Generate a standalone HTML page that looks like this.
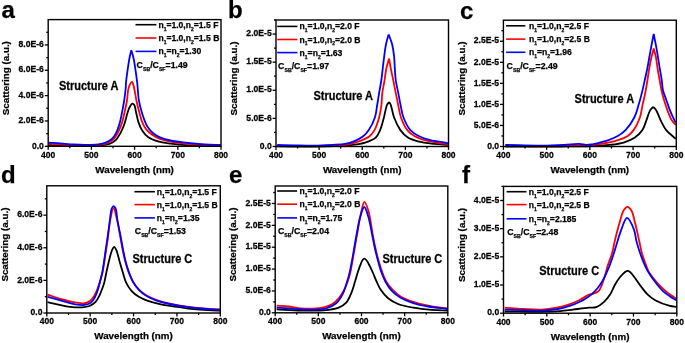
<!DOCTYPE html>
<html><head><meta charset="utf-8"><style>
html,body{margin:0;padding:0;background:#fff;width:685px;height:343px;overflow:hidden}
svg{display:block;will-change:transform}
text{font-family:"Liberation Sans", sans-serif;font-weight:bold;fill:#000;stroke:#000;stroke-width:0.25px}
</style></head><body>
<svg width="685" height="343" viewBox="0 0 685 343">
<path d="M48.60,144.90 C58.83,145.17 69.99,145.64 79.30,145.70 C87.07,145.75 95.16,145.91 100.70,145.40 C104.26,145.07 106.81,144.86 109.40,143.90 C111.76,143.02 113.88,141.84 115.70,140.10 C117.71,138.18 119.25,135.27 120.70,132.60 C122.20,129.85 123.39,126.96 124.50,123.80 C125.73,120.31 126.62,115.49 127.60,112.50 C128.26,110.48 128.68,109.00 129.50,107.50 C130.27,106.09 131.36,103.87 132.30,103.70 C132.97,103.58 133.75,104.22 134.30,105.00 C135.28,106.39 135.45,109.82 136.10,112.50 C136.86,115.62 137.49,119.47 138.60,122.60 C139.63,125.50 140.80,128.27 142.40,130.70 C143.95,133.06 145.63,135.28 148.00,137.00 C150.71,138.96 154.48,140.31 158.10,141.40 C161.98,142.57 166.00,142.98 170.60,143.60 C176.22,144.36 182.47,144.98 189.40,145.40 C197.93,145.91 213.65,146.05 218.00,146.10 C219.29,146.12 219.67,146.10 220.50,146.10" fill="none" stroke="#000000" stroke-width="1.8" stroke-linejoin="round"/>
<path d="M48.60,143.90 C52.57,144.13 56.08,144.38 60.50,144.60 C66.05,144.88 73.02,145.32 79.30,145.40 C85.59,145.48 93.13,145.69 98.20,145.10 C101.68,144.70 104.31,144.22 106.90,143.20 C109.25,142.28 111.38,141.22 113.20,139.50 C115.22,137.59 116.76,134.72 118.20,132.00 C119.72,129.11 120.95,125.83 122.00,122.60 C123.06,119.33 123.70,116.02 124.50,112.50 C125.37,108.68 126.32,104.55 127.00,100.50 C127.69,96.39 127.49,91.33 128.60,88.00 C129.42,85.54 131.07,81.92 132.00,82.00 C132.89,82.08 133.47,85.61 134.10,88.00 C135.00,91.38 135.51,96.34 136.40,100.50 C137.30,104.71 138.43,109.21 139.50,113.10 C140.44,116.50 141.19,119.76 142.40,122.60 C143.47,125.12 144.62,127.41 146.20,129.40 C147.76,131.37 149.70,133.00 151.80,134.50 C154.03,136.09 156.47,137.47 159.30,138.60 C162.61,139.92 166.53,140.79 170.60,141.60 C175.24,142.52 180.47,143.06 185.70,143.60 C191.31,144.18 197.61,144.60 203.20,144.90 C208.34,145.18 215.13,145.35 218.00,145.40 C219.18,145.42 219.67,145.40 220.50,145.40" fill="none" stroke="#ff0000" stroke-width="1.8" stroke-linejoin="round"/>
<path d="M48.60,142.60 C52.57,142.87 56.48,143.09 60.50,143.40 C64.64,143.72 68.90,144.25 73.10,144.50 C77.27,144.75 81.43,144.92 85.60,144.90 C89.79,144.88 94.56,144.90 98.20,144.40 C101.04,144.01 103.38,143.54 105.70,142.60 C107.94,141.69 110.15,140.53 111.90,138.90 C113.70,137.22 115.07,134.96 116.30,132.60 C117.66,129.99 118.59,126.91 119.50,123.80 C120.48,120.44 121.14,116.82 121.90,113.10 C122.72,109.08 123.57,104.70 124.20,100.50 C124.83,96.33 125.41,91.31 125.70,88.00 C125.89,85.83 125.80,84.77 126.00,82.60 C126.30,79.29 127.00,74.27 127.60,70.10 C128.20,65.90 128.89,61.10 129.60,57.50 C130.14,54.75 130.73,52.70 131.30,50.30 M131.30,50.30 C132.00,52.70 132.77,54.75 133.40,57.50 C134.22,61.10 134.87,65.90 135.50,70.10 C136.13,74.27 136.68,78.05 137.20,82.60 C137.83,88.03 137.98,95.09 138.90,100.50 C139.68,105.10 140.89,109.37 142.00,113.10 C142.91,116.15 143.84,118.78 144.90,121.30 C145.86,123.57 146.67,125.65 148.00,127.60 C149.38,129.63 151.09,131.57 153.10,133.20 C155.25,134.94 157.84,136.41 160.60,137.60 C163.62,138.90 167.05,139.72 170.60,140.50 C174.53,141.36 178.81,141.85 183.20,142.40 C187.98,143.00 192.85,143.50 198.20,143.90 C204.34,144.36 214.54,144.74 218.00,144.90 C219.23,144.96 219.67,144.97 220.50,145.00" fill="none" stroke="#0000ff" stroke-width="1.8" stroke-linejoin="round"/>
<rect x="48.2" y="19.6" width="172.80" height="126.70" fill="none" stroke="#000" stroke-width="1.4"/>
<line x1="48.20" y1="146.3" x2="48.20" y2="149.70" stroke="#000" stroke-width="1.3"/>
<text transform="translate(48.20,157.60) scale(0.98,1.06)" font-size="8.7" text-anchor="middle" class="tk">400</text>
<line x1="69.80" y1="146.3" x2="69.80" y2="148.30" stroke="#000" stroke-width="1.3"/>
<line x1="91.40" y1="146.3" x2="91.40" y2="149.70" stroke="#000" stroke-width="1.3"/>
<text transform="translate(91.40,157.60) scale(0.98,1.06)" font-size="8.7" text-anchor="middle" class="tk">500</text>
<line x1="113.00" y1="146.3" x2="113.00" y2="148.30" stroke="#000" stroke-width="1.3"/>
<line x1="134.60" y1="146.3" x2="134.60" y2="149.70" stroke="#000" stroke-width="1.3"/>
<text transform="translate(134.60,157.60) scale(0.98,1.06)" font-size="8.7" text-anchor="middle" class="tk">600</text>
<line x1="156.20" y1="146.3" x2="156.20" y2="148.30" stroke="#000" stroke-width="1.3"/>
<line x1="177.80" y1="146.3" x2="177.80" y2="149.70" stroke="#000" stroke-width="1.3"/>
<text transform="translate(177.80,157.60) scale(0.98,1.06)" font-size="8.7" text-anchor="middle" class="tk">700</text>
<line x1="199.40" y1="146.3" x2="199.40" y2="148.30" stroke="#000" stroke-width="1.3"/>
<line x1="221.00" y1="146.3" x2="221.00" y2="149.70" stroke="#000" stroke-width="1.3"/>
<text transform="translate(221.00,157.60) scale(0.98,1.06)" font-size="8.7" text-anchor="middle" class="tk">800</text>
<line x1="44.80" y1="146.30" x2="48.2" y2="146.30" stroke="#000" stroke-width="1.3"/>
<text transform="translate(43.90,148.50) scale(0.99,1.06)" font-size="8.7" text-anchor="end" class="tk">0.0</text>
<line x1="46.20" y1="133.63" x2="48.2" y2="133.63" stroke="#000" stroke-width="1.3"/>
<line x1="44.80" y1="120.96" x2="48.2" y2="120.96" stroke="#000" stroke-width="1.3"/>
<text transform="translate(43.90,123.16) scale(0.99,1.06)" font-size="8.7" text-anchor="end" class="tk">2.0E-6</text>
<line x1="46.20" y1="108.29" x2="48.2" y2="108.29" stroke="#000" stroke-width="1.3"/>
<line x1="44.80" y1="95.62" x2="48.2" y2="95.62" stroke="#000" stroke-width="1.3"/>
<text transform="translate(43.90,97.82) scale(0.99,1.06)" font-size="8.7" text-anchor="end" class="tk">4.0E-6</text>
<line x1="46.20" y1="82.95" x2="48.2" y2="82.95" stroke="#000" stroke-width="1.3"/>
<line x1="44.80" y1="70.28" x2="48.2" y2="70.28" stroke="#000" stroke-width="1.3"/>
<text transform="translate(43.90,72.48) scale(0.99,1.06)" font-size="8.7" text-anchor="end" class="tk">6.0E-6</text>
<line x1="46.20" y1="57.61" x2="48.2" y2="57.61" stroke="#000" stroke-width="1.3"/>
<line x1="44.80" y1="44.94" x2="48.2" y2="44.94" stroke="#000" stroke-width="1.3"/>
<text transform="translate(43.90,47.14) scale(0.99,1.06)" font-size="8.7" text-anchor="end" class="tk">8.0E-6</text>
<line x1="46.20" y1="32.27" x2="48.2" y2="32.27" stroke="#000" stroke-width="1.3"/>
<text x="134.60" y="172.70" font-size="9.8" text-anchor="middle" class="lb">Wavelength (nm)</text>
<text x="0" y="0" transform="translate(9.40,78.15) rotate(-90)" font-size="9.8" text-anchor="middle" class="lb">Scattering (a.u.)</text>
<line x1="135.5" y1="24.7" x2="156.4" y2="24.7" stroke="#000000" stroke-width="1.6"/>
<text x="158.4" y="27.7" font-size="8.6" class="lg"><tspan>n</tspan><tspan font-size="4.99" dy="2.9">1</tspan><tspan dy="-2.9">=1.0,</tspan><tspan>n</tspan><tspan font-size="4.99" dy="2.9">2</tspan><tspan dy="-2.9">=1.5 F</tspan></text>
<line x1="135.5" y1="38.0" x2="156.4" y2="38.0" stroke="#ff0000" stroke-width="1.6"/>
<text x="158.4" y="41.0" font-size="8.6" class="lg"><tspan>n</tspan><tspan font-size="4.99" dy="2.9">1</tspan><tspan dy="-2.9">=1.0,</tspan><tspan>n</tspan><tspan font-size="4.99" dy="2.9">2</tspan><tspan dy="-2.9">=1.5 B</tspan></text>
<line x1="135.5" y1="51.4" x2="156.4" y2="51.4" stroke="#0000ff" stroke-width="1.6"/>
<text x="158.4" y="54.4" font-size="8.6" class="lg"><tspan>n</tspan><tspan font-size="4.99" dy="2.9">1</tspan><tspan dy="-2.9">=</tspan><tspan>n</tspan><tspan font-size="4.99" dy="2.9">2</tspan><tspan dy="-2.9">=1.30</tspan></text>
<text x="136.6" y="68.3" font-size="8.75" class="lg">C<tspan font-size="5.2" dy="3.1">SB</tspan><tspan dy="-3.1">/C</tspan><tspan font-size="5.2" dy="3.1">SF</tspan><tspan dy="-3.1">=1.49</tspan></text>
<text transform="translate(58.9,89.8) scale(0.975,1.07)" font-size="11.3" class="st">Structure A</text>
<text x="1.5" y="18.4" font-size="24" class="le">a</text>
<path d="M277.30,146.40 C293.60,146.40 312.41,146.79 326.20,146.40 C336.32,146.11 345.35,145.75 352.50,144.90 C357.49,144.31 361.16,143.87 365.10,142.60 C368.87,141.39 373.15,139.93 375.70,137.60 C377.90,135.59 378.83,133.01 380.10,130.10 C381.66,126.52 382.74,121.71 383.90,117.50 C385.04,113.34 385.79,107.70 387.00,105.00 C387.65,103.54 388.40,102.93 389.10,101.90 M389.10,101.90 C389.67,102.93 390.23,103.57 390.80,105.00 C391.89,107.73 392.55,113.40 394.10,117.50 C395.71,121.78 397.88,126.61 400.40,130.10 C402.59,133.13 404.99,135.72 407.90,137.60 C410.82,139.49 414.10,140.40 417.90,141.40 C422.62,142.64 428.98,143.31 434.20,143.90 C438.98,144.44 443.40,144.57 448.00,144.90" fill="none" stroke="#000000" stroke-width="1.8" stroke-linejoin="round"/>
<path d="M277.30,145.70 C289.40,145.83 302.61,146.19 313.60,146.10 C322.74,146.02 332.48,145.80 338.70,145.40 C342.39,145.16 344.41,145.08 347.50,144.50 C351.06,143.83 355.14,142.76 358.80,141.40 C362.48,140.03 366.78,138.45 369.50,136.30 C371.73,134.54 373.04,132.68 374.50,130.10 C376.39,126.76 377.94,121.74 379.10,117.50 C380.22,113.37 380.87,109.13 381.40,105.00 C381.92,101.00 381.80,97.11 382.30,93.10 C382.82,88.95 383.81,84.70 384.50,80.50 C385.18,76.33 385.56,71.85 386.40,68.00 C387.14,64.62 388.20,61.73 389.10,58.60 M389.10,58.60 C389.63,61.73 390.07,64.65 390.70,68.00 C391.43,71.88 392.45,76.32 393.30,80.50 C394.15,84.69 394.97,88.91 395.80,93.10 C396.63,97.28 397.42,101.49 398.30,105.60 C399.16,109.62 399.59,113.56 401.00,117.50 C402.51,121.73 404.70,126.84 407.30,130.10 C409.46,132.81 411.85,134.60 414.80,136.30 C418.17,138.24 422.22,139.50 426.70,140.70 C432.19,142.17 442.15,143.48 445.50,143.90 C446.72,144.05 447.17,144.03 448.00,144.10" fill="none" stroke="#ff0000" stroke-width="1.8" stroke-linejoin="round"/>
<path d="M277.30,144.90 C283.13,145.07 288.86,145.27 294.80,145.40 C300.95,145.54 307.33,145.78 313.60,145.70 C319.87,145.62 326.76,145.24 332.40,144.90 C337.02,144.62 341.21,144.58 345.00,143.90 C348.23,143.32 350.88,142.59 353.80,141.40 C356.95,140.12 360.61,138.34 363.20,136.30 C365.49,134.50 367.06,132.68 368.80,130.10 C371.05,126.76 373.50,121.79 374.90,117.50 C376.24,113.41 376.49,109.12 377.20,105.00 C377.89,100.99 378.43,97.12 379.10,93.10 C379.79,88.96 380.68,84.72 381.30,80.50 C381.92,76.28 382.30,71.93 382.80,67.80 C383.27,63.87 383.67,60.21 384.20,56.30 C384.76,52.22 385.30,47.65 386.10,43.80 C386.80,40.42 387.77,37.53 388.60,34.40 M388.60,34.40 C389.73,37.53 391.11,40.40 392.00,43.80 C393.01,47.63 393.63,52.19 394.10,56.30 C394.55,60.25 394.52,64.04 394.80,68.00 C395.09,72.10 395.22,76.34 395.80,80.50 C396.38,84.71 397.49,88.93 398.30,93.10 C399.09,97.20 399.74,101.24 400.60,105.30 C401.47,109.38 401.96,113.50 403.50,117.50 C405.15,121.78 407.52,126.87 410.40,130.10 C412.90,132.89 415.96,134.65 419.20,136.30 C422.60,138.03 426.34,139.08 430.40,140.10 C435.01,141.26 442.59,142.01 445.50,142.60 C446.69,142.84 447.17,143.00 448.00,143.20" fill="none" stroke="#0000ff" stroke-width="1.8" stroke-linejoin="round"/>
<rect x="276.0" y="20.0" width="172.50" height="126.50" fill="none" stroke="#000" stroke-width="1.4"/>
<line x1="276.00" y1="146.5" x2="276.00" y2="149.90" stroke="#000" stroke-width="1.3"/>
<text transform="translate(276.00,157.80) scale(0.98,1.06)" font-size="8.7" text-anchor="middle" class="tk">400</text>
<line x1="297.56" y1="146.5" x2="297.56" y2="148.50" stroke="#000" stroke-width="1.3"/>
<line x1="319.12" y1="146.5" x2="319.12" y2="149.90" stroke="#000" stroke-width="1.3"/>
<text transform="translate(319.12,157.80) scale(0.98,1.06)" font-size="8.7" text-anchor="middle" class="tk">500</text>
<line x1="340.69" y1="146.5" x2="340.69" y2="148.50" stroke="#000" stroke-width="1.3"/>
<line x1="362.25" y1="146.5" x2="362.25" y2="149.90" stroke="#000" stroke-width="1.3"/>
<text transform="translate(362.25,157.80) scale(0.98,1.06)" font-size="8.7" text-anchor="middle" class="tk">600</text>
<line x1="383.81" y1="146.5" x2="383.81" y2="148.50" stroke="#000" stroke-width="1.3"/>
<line x1="405.38" y1="146.5" x2="405.38" y2="149.90" stroke="#000" stroke-width="1.3"/>
<text transform="translate(405.38,157.80) scale(0.98,1.06)" font-size="8.7" text-anchor="middle" class="tk">700</text>
<line x1="426.94" y1="146.5" x2="426.94" y2="148.50" stroke="#000" stroke-width="1.3"/>
<line x1="448.50" y1="146.5" x2="448.50" y2="149.90" stroke="#000" stroke-width="1.3"/>
<text transform="translate(448.50,157.80) scale(0.98,1.06)" font-size="8.7" text-anchor="middle" class="tk">800</text>
<line x1="272.60" y1="146.50" x2="276.0" y2="146.50" stroke="#000" stroke-width="1.3"/>
<text transform="translate(271.70,148.70) scale(0.99,1.06)" font-size="8.7" text-anchor="end" class="tk">0.0</text>
<line x1="274.00" y1="132.44" x2="276.0" y2="132.44" stroke="#000" stroke-width="1.3"/>
<line x1="272.60" y1="118.39" x2="276.0" y2="118.39" stroke="#000" stroke-width="1.3"/>
<text transform="translate(271.70,120.59) scale(0.99,1.06)" font-size="8.7" text-anchor="end" class="tk">5.0E-6</text>
<line x1="274.00" y1="104.33" x2="276.0" y2="104.33" stroke="#000" stroke-width="1.3"/>
<line x1="272.60" y1="90.28" x2="276.0" y2="90.28" stroke="#000" stroke-width="1.3"/>
<text transform="translate(271.70,92.48) scale(0.99,1.06)" font-size="8.7" text-anchor="end" class="tk">1.0E-5</text>
<line x1="274.00" y1="76.22" x2="276.0" y2="76.22" stroke="#000" stroke-width="1.3"/>
<line x1="272.60" y1="62.17" x2="276.0" y2="62.17" stroke="#000" stroke-width="1.3"/>
<text transform="translate(271.70,64.37) scale(0.99,1.06)" font-size="8.7" text-anchor="end" class="tk">1.5E-5</text>
<line x1="274.00" y1="48.11" x2="276.0" y2="48.11" stroke="#000" stroke-width="1.3"/>
<line x1="272.60" y1="34.06" x2="276.0" y2="34.06" stroke="#000" stroke-width="1.3"/>
<text transform="translate(271.70,36.26) scale(0.99,1.06)" font-size="8.7" text-anchor="end" class="tk">2.0E-5</text>
<line x1="274.00" y1="20.00" x2="276.0" y2="20.00" stroke="#000" stroke-width="1.3"/>
<text x="362.25" y="172.90" font-size="9.8" text-anchor="middle" class="lb">Wavelength (nm)</text>
<text x="0" y="0" transform="translate(237.20,78.45) rotate(-90)" font-size="9.8" text-anchor="middle" class="lb">Scattering (a.u.)</text>
<line x1="277.2" y1="26.4" x2="297.4" y2="26.4" stroke="#000000" stroke-width="1.6"/>
<text x="299.6" y="29.4" font-size="8.6" class="lg"><tspan>n</tspan><tspan font-size="4.99" dy="2.9">1</tspan><tspan dy="-2.9">=1.0,</tspan><tspan>n</tspan><tspan font-size="4.99" dy="2.9">2</tspan><tspan dy="-2.9">=2.0 F</tspan></text>
<line x1="277.2" y1="39.5" x2="297.4" y2="39.5" stroke="#ff0000" stroke-width="1.6"/>
<text x="299.6" y="42.5" font-size="8.6" class="lg"><tspan>n</tspan><tspan font-size="4.99" dy="2.9">1</tspan><tspan dy="-2.9">=1.0,</tspan><tspan>n</tspan><tspan font-size="4.99" dy="2.9">2</tspan><tspan dy="-2.9">=2.0 B</tspan></text>
<line x1="277.2" y1="52.6" x2="297.4" y2="52.6" stroke="#0000ff" stroke-width="1.6"/>
<text x="299.6" y="55.6" font-size="8.6" class="lg"><tspan>n</tspan><tspan font-size="4.99" dy="2.9">1</tspan><tspan dy="-2.9">=</tspan><tspan>n</tspan><tspan font-size="4.99" dy="2.9">2</tspan><tspan dy="-2.9">=1.63</tspan></text>
<text x="278.1" y="69.2" font-size="8.75" class="lg">C<tspan font-size="5.2" dy="3.1">SB</tspan><tspan dy="-3.1">/C</tspan><tspan font-size="5.2" dy="3.1">SF</tspan><tspan dy="-3.1">=1.97</tspan></text>
<text transform="translate(313.5,99.7) scale(0.975,1.07)" font-size="11.3" class="st">Structure A</text>
<text x="228.0" y="18.4" font-size="24" class="le">b</text>
<path d="M505.30,146.50 C523.53,146.50 544.34,146.60 560.00,146.50 C571.79,146.42 581.96,146.45 591.00,146.10 C598.05,145.83 604.03,145.56 609.80,144.90 C614.77,144.33 619.31,143.89 623.60,142.60 C627.64,141.39 631.69,139.80 634.90,137.60 C637.88,135.56 640.49,132.96 642.40,130.10 C644.28,127.28 645.03,123.83 646.30,120.60 C647.60,117.27 648.65,112.85 650.10,110.40 C651.06,108.78 652.17,108.00 653.20,106.80 M653.20,106.80 C654.23,108.00 655.29,108.80 656.30,110.40 C657.85,112.86 659.14,117.30 660.80,120.60 C662.44,123.87 663.85,127.17 666.20,130.10 C668.75,133.29 672.60,135.90 675.80,138.80" fill="none" stroke="#000000" stroke-width="1.8" stroke-linejoin="round"/>
<path d="M505.30,146.10 C517.40,146.17 530.04,146.36 541.60,146.30 C552.18,146.24 565.37,146.08 572.00,145.80 C575.23,145.66 576.83,145.30 579.20,145.30 C581.50,145.30 583.91,145.81 586.00,145.80 C587.79,145.79 589.05,145.62 591.00,145.40 C593.77,145.08 597.48,144.51 601.00,143.90 C604.97,143.21 609.35,142.60 613.60,141.40 C618.15,140.12 623.89,138.55 627.40,136.30 C630.11,134.56 631.71,132.72 633.60,130.10 C635.99,126.78 638.42,121.74 639.90,117.50 C641.27,113.56 641.53,109.61 642.40,105.60 C643.29,101.48 644.37,97.28 645.20,93.10 C646.03,88.92 646.71,84.70 647.40,80.50 C648.08,76.33 648.59,72.03 649.30,68.00 C649.97,64.21 650.71,60.41 651.50,57.00 C652.19,54.00 652.97,51.40 653.70,48.60 M653.70,48.60 C654.43,51.40 655.29,53.99 655.90,57.00 C656.59,60.40 656.89,64.22 657.50,68.00 C658.15,72.04 659.01,76.62 659.70,80.50 C660.30,83.88 660.69,86.79 661.40,90.00 C662.14,93.35 663.09,96.82 664.10,100.20 C665.12,103.62 666.20,107.03 667.50,110.40 C668.83,113.83 670.35,117.99 672.00,120.60 C673.19,122.48 674.53,123.53 675.80,125.00" fill="none" stroke="#ff0000" stroke-width="1.8" stroke-linejoin="round"/>
<path d="M505.30,144.90 C517.40,145.13 530.93,145.66 541.60,145.60 C550.02,145.55 557.44,145.23 564.20,144.90 C569.71,144.63 575.18,143.77 579.20,143.90 C581.91,143.99 583.90,144.72 586.00,144.80 C587.79,144.86 589.11,144.76 591.00,144.50 C593.53,144.15 596.88,143.33 599.80,142.60 C602.75,141.86 605.71,141.14 608.60,140.10 C611.54,139.04 614.53,137.92 617.30,136.30 C620.18,134.62 622.92,132.78 625.50,130.10 C628.66,126.82 632.11,121.80 634.30,117.50 C636.28,113.61 637.16,109.64 638.40,105.60 C639.66,101.51 640.75,97.29 641.80,93.10 C642.85,88.92 643.76,84.69 644.70,80.50 C645.63,76.33 646.50,72.55 647.40,68.00 C648.47,62.58 649.53,55.92 650.60,50.10 C651.63,44.54 652.67,39.23 653.70,33.80 M653.70,33.80 C654.73,39.23 655.82,44.53 656.80,50.10 C657.82,55.92 658.80,62.57 659.70,68.00 C660.45,72.54 661.25,76.61 661.80,80.50 C662.28,83.88 662.18,86.82 662.90,90.00 C663.67,93.38 665.22,96.80 666.40,100.20 C667.58,103.60 668.65,107.03 670.00,110.40 C671.38,113.83 673.52,118.53 674.60,120.60 C675.09,121.54 675.40,121.93 675.80,122.60" fill="none" stroke="#0000ff" stroke-width="1.8" stroke-linejoin="round"/>
<rect x="503.4" y="20.2" width="172.90" height="126.30" fill="none" stroke="#000" stroke-width="1.4"/>
<line x1="503.40" y1="146.5" x2="503.40" y2="149.90" stroke="#000" stroke-width="1.3"/>
<text transform="translate(503.40,157.80) scale(0.98,1.06)" font-size="8.7" text-anchor="middle" class="tk">400</text>
<line x1="525.01" y1="146.5" x2="525.01" y2="148.50" stroke="#000" stroke-width="1.3"/>
<line x1="546.62" y1="146.5" x2="546.62" y2="149.90" stroke="#000" stroke-width="1.3"/>
<text transform="translate(546.62,157.80) scale(0.98,1.06)" font-size="8.7" text-anchor="middle" class="tk">500</text>
<line x1="568.24" y1="146.5" x2="568.24" y2="148.50" stroke="#000" stroke-width="1.3"/>
<line x1="589.85" y1="146.5" x2="589.85" y2="149.90" stroke="#000" stroke-width="1.3"/>
<text transform="translate(589.85,157.80) scale(0.98,1.06)" font-size="8.7" text-anchor="middle" class="tk">600</text>
<line x1="611.46" y1="146.5" x2="611.46" y2="148.50" stroke="#000" stroke-width="1.3"/>
<line x1="633.07" y1="146.5" x2="633.07" y2="149.90" stroke="#000" stroke-width="1.3"/>
<text transform="translate(633.07,157.80) scale(0.98,1.06)" font-size="8.7" text-anchor="middle" class="tk">700</text>
<line x1="654.69" y1="146.5" x2="654.69" y2="148.50" stroke="#000" stroke-width="1.3"/>
<line x1="676.30" y1="146.5" x2="676.30" y2="149.90" stroke="#000" stroke-width="1.3"/>
<text transform="translate(676.30,157.80) scale(0.98,1.06)" font-size="8.7" text-anchor="middle" class="tk">800</text>
<line x1="500.00" y1="146.50" x2="503.4" y2="146.50" stroke="#000" stroke-width="1.3"/>
<text transform="translate(499.10,148.70) scale(0.99,1.06)" font-size="8.7" text-anchor="end" class="tk">0.0</text>
<line x1="501.40" y1="135.97" x2="503.4" y2="135.97" stroke="#000" stroke-width="1.3"/>
<line x1="500.00" y1="125.45" x2="503.4" y2="125.45" stroke="#000" stroke-width="1.3"/>
<text transform="translate(499.10,127.65) scale(0.99,1.06)" font-size="8.7" text-anchor="end" class="tk">5.0E-6</text>
<line x1="501.40" y1="114.92" x2="503.4" y2="114.92" stroke="#000" stroke-width="1.3"/>
<line x1="500.00" y1="104.40" x2="503.4" y2="104.40" stroke="#000" stroke-width="1.3"/>
<text transform="translate(499.10,106.60) scale(0.99,1.06)" font-size="8.7" text-anchor="end" class="tk">1.0E-5</text>
<line x1="501.40" y1="93.88" x2="503.4" y2="93.88" stroke="#000" stroke-width="1.3"/>
<line x1="500.00" y1="83.35" x2="503.4" y2="83.35" stroke="#000" stroke-width="1.3"/>
<text transform="translate(499.10,85.55) scale(0.99,1.06)" font-size="8.7" text-anchor="end" class="tk">1.5E-5</text>
<line x1="501.40" y1="72.82" x2="503.4" y2="72.82" stroke="#000" stroke-width="1.3"/>
<line x1="500.00" y1="62.30" x2="503.4" y2="62.30" stroke="#000" stroke-width="1.3"/>
<text transform="translate(499.10,64.50) scale(0.99,1.06)" font-size="8.7" text-anchor="end" class="tk">2.0E-5</text>
<line x1="501.40" y1="51.77" x2="503.4" y2="51.77" stroke="#000" stroke-width="1.3"/>
<line x1="500.00" y1="41.25" x2="503.4" y2="41.25" stroke="#000" stroke-width="1.3"/>
<text transform="translate(499.10,43.45) scale(0.99,1.06)" font-size="8.7" text-anchor="end" class="tk">2.5E-5</text>
<line x1="501.40" y1="30.72" x2="503.4" y2="30.72" stroke="#000" stroke-width="1.3"/>
<text x="589.85" y="172.90" font-size="9.8" text-anchor="middle" class="lb">Wavelength (nm)</text>
<text x="0" y="0" transform="translate(464.60,78.55) rotate(-90)" font-size="9.8" text-anchor="middle" class="lb">Scattering (a.u.)</text>
<line x1="506.1" y1="25.8" x2="525.4" y2="25.8" stroke="#000000" stroke-width="1.6"/>
<text x="528.9" y="28.8" font-size="8.6" class="lg"><tspan>n</tspan><tspan font-size="4.99" dy="2.9">1</tspan><tspan dy="-2.9">=1.0,</tspan><tspan>n</tspan><tspan font-size="4.99" dy="2.9">2</tspan><tspan dy="-2.9">=2.5 F</tspan></text>
<line x1="506.1" y1="39.1" x2="525.4" y2="39.1" stroke="#ff0000" stroke-width="1.6"/>
<text x="528.9" y="42.1" font-size="8.6" class="lg"><tspan>n</tspan><tspan font-size="4.99" dy="2.9">1</tspan><tspan dy="-2.9">=1.0,</tspan><tspan>n</tspan><tspan font-size="4.99" dy="2.9">2</tspan><tspan dy="-2.9">=2.5 B</tspan></text>
<line x1="506.1" y1="52.3" x2="525.4" y2="52.3" stroke="#0000ff" stroke-width="1.6"/>
<text x="528.9" y="55.3" font-size="8.6" class="lg"><tspan>n</tspan><tspan font-size="4.99" dy="2.9">1</tspan><tspan dy="-2.9">=</tspan><tspan>n</tspan><tspan font-size="4.99" dy="2.9">2</tspan><tspan dy="-2.9">=1.96</tspan></text>
<text x="506.6" y="68.9" font-size="8.75" class="lg">C<tspan font-size="5.2" dy="3.1">SB</tspan><tspan dy="-3.1">/C</tspan><tspan font-size="5.2" dy="3.1">SF</tspan><tspan dy="-3.1">=2.49</tspan></text>
<text transform="translate(574.6,102.5) scale(0.975,1.07)" font-size="11.3" class="st">Structure A</text>
<text x="460.0" y="18.5" font-size="24" class="le">c</text>
<path d="M47.60,302.10 C51.57,303.00 55.47,303.97 59.50,304.80 C63.63,305.65 68.11,306.70 72.10,307.10 C75.66,307.46 79.21,307.55 82.30,307.30 C84.92,307.09 87.29,306.90 89.50,306.00 C91.72,305.10 93.94,303.66 95.60,301.90 C97.29,300.11 98.37,297.58 99.50,295.30 C100.63,293.02 101.57,290.46 102.40,288.20 C103.14,286.18 103.71,284.62 104.30,282.40 C105.07,279.50 105.67,275.55 106.40,272.20 C107.11,268.92 107.75,265.90 108.60,262.50 C109.55,258.70 110.70,253.27 111.90,250.50 C112.60,248.88 113.34,246.92 114.10,246.90 C114.87,246.88 115.75,248.88 116.50,250.50 C117.75,253.23 118.72,258.55 119.80,262.30 C120.78,265.72 121.68,268.81 122.70,272.10 C123.74,275.47 124.50,279.15 126.00,282.30 C127.46,285.37 129.35,288.39 131.50,290.80 C133.52,293.07 135.75,294.85 138.40,296.50 C141.36,298.35 144.98,299.82 148.60,301.10 C152.45,302.46 156.64,303.42 160.90,304.30 C165.42,305.24 170.36,305.77 175.00,306.50 C179.52,307.21 183.08,308.00 188.40,308.60 C196.13,309.47 212.33,310.36 217.00,310.60 C218.51,310.68 219.00,310.67 220.00,310.70" fill="none" stroke="#000000" stroke-width="1.8" stroke-linejoin="round"/>
<path d="M47.60,294.60 C51.57,295.93 55.45,297.41 59.50,298.60 C63.62,299.81 69.31,301.18 72.10,301.80 C73.48,302.11 73.92,302.19 75.20,302.40 C77.28,302.74 81.01,303.70 83.40,303.50 C85.32,303.34 86.97,302.75 88.50,301.90 C90.04,301.05 91.43,299.79 92.60,298.40 C93.82,296.94 94.67,295.18 95.60,293.30 C96.66,291.14 97.70,288.38 98.50,286.10 C99.20,284.11 99.59,282.47 100.20,280.40 C100.93,277.92 101.95,275.07 102.60,272.20 C103.30,269.12 103.66,265.91 104.20,262.50 C104.80,258.71 105.39,254.54 106.00,250.50 C106.62,246.38 107.26,242.54 107.90,238.00 C108.66,232.57 109.10,225.42 110.20,220.10 C111.11,215.69 112.45,208.20 113.60,208.20 C114.75,208.20 116.04,215.70 117.10,220.10 C118.39,225.43 119.48,232.57 120.50,238.00 C121.35,242.54 121.95,246.40 122.80,250.50 C123.63,254.50 124.48,258.57 125.50,262.30 C126.44,265.74 127.36,268.85 128.60,272.10 C129.88,275.45 131.25,279.05 133.10,282.10 C134.88,285.03 137.07,287.81 139.40,290.10 C141.60,292.26 143.88,293.99 146.60,295.60 C149.61,297.38 153.16,298.81 156.80,300.10 C160.78,301.51 164.90,302.56 169.60,303.60 C175.24,304.85 181.46,305.90 188.40,306.80 C196.92,307.91 212.33,309.11 217.00,309.40 C218.51,309.49 219.00,309.47 220.00,309.50" fill="none" stroke="#ff0000" stroke-width="1.8" stroke-linejoin="round"/>
<path d="M47.60,296.80 C51.57,297.93 55.47,299.08 59.50,300.20 C63.64,301.35 69.31,302.91 72.10,303.60 C73.48,303.94 73.91,304.10 75.20,304.30 C77.27,304.62 80.88,305.20 83.40,305.00 C85.60,304.83 87.78,304.47 89.50,303.50 C91.15,302.57 92.45,301.01 93.60,299.40 C94.85,297.65 95.71,295.52 96.60,293.30 C97.60,290.80 98.52,287.46 99.20,285.10 C99.71,283.32 99.97,282.19 100.40,280.40 C100.97,278.05 101.73,275.06 102.30,272.20 C102.91,269.11 103.38,265.91 103.90,262.50 C104.48,258.72 105.01,254.56 105.60,250.50 C106.21,246.33 106.85,242.39 107.50,237.80 C108.27,232.39 109.13,225.38 109.90,220.10 C110.52,215.82 110.66,210.81 111.70,208.50 C112.22,207.34 112.95,206.21 113.60,206.20 C114.25,206.19 115.06,207.33 115.60,208.50 C116.67,210.80 116.65,215.83 117.40,220.10 C118.33,225.39 119.87,232.38 120.90,237.80 C121.77,242.38 122.37,246.35 123.20,250.50 C124.01,254.51 124.80,258.57 125.80,262.30 C126.72,265.74 127.68,268.84 128.90,272.10 C130.16,275.47 131.51,279.10 133.30,282.20 C135.03,285.18 137.11,288.06 139.40,290.40 C141.57,292.61 143.88,294.36 146.60,296.00 C149.61,297.81 153.15,299.30 156.80,300.60 C160.77,302.01 164.90,302.99 169.60,304.00 C175.24,305.21 181.46,306.23 188.40,307.10 C196.92,308.17 212.33,309.32 217.00,309.60 C218.51,309.69 219.00,309.67 220.00,309.70" fill="none" stroke="#0000ff" stroke-width="1.8" stroke-linejoin="round"/>
<rect x="46.8" y="185.8" width="173.50" height="127.20" fill="none" stroke="#000" stroke-width="1.4"/>
<line x1="46.80" y1="313.0" x2="46.80" y2="316.40" stroke="#000" stroke-width="1.3"/>
<text transform="translate(46.80,324.30) scale(0.98,1.06)" font-size="8.7" text-anchor="middle" class="tk">400</text>
<line x1="68.49" y1="313.0" x2="68.49" y2="315.00" stroke="#000" stroke-width="1.3"/>
<line x1="90.17" y1="313.0" x2="90.17" y2="316.40" stroke="#000" stroke-width="1.3"/>
<text transform="translate(90.17,324.30) scale(0.98,1.06)" font-size="8.7" text-anchor="middle" class="tk">500</text>
<line x1="111.86" y1="313.0" x2="111.86" y2="315.00" stroke="#000" stroke-width="1.3"/>
<line x1="133.55" y1="313.0" x2="133.55" y2="316.40" stroke="#000" stroke-width="1.3"/>
<text transform="translate(133.55,324.30) scale(0.98,1.06)" font-size="8.7" text-anchor="middle" class="tk">600</text>
<line x1="155.24" y1="313.0" x2="155.24" y2="315.00" stroke="#000" stroke-width="1.3"/>
<line x1="176.93" y1="313.0" x2="176.93" y2="316.40" stroke="#000" stroke-width="1.3"/>
<text transform="translate(176.93,324.30) scale(0.98,1.06)" font-size="8.7" text-anchor="middle" class="tk">700</text>
<line x1="198.61" y1="313.0" x2="198.61" y2="315.00" stroke="#000" stroke-width="1.3"/>
<line x1="220.30" y1="313.0" x2="220.30" y2="316.40" stroke="#000" stroke-width="1.3"/>
<text transform="translate(220.30,324.30) scale(0.98,1.06)" font-size="8.7" text-anchor="middle" class="tk">800</text>
<line x1="43.40" y1="313.00" x2="46.8" y2="313.00" stroke="#000" stroke-width="1.3"/>
<text transform="translate(42.50,315.20) scale(0.99,1.06)" font-size="8.7" text-anchor="end" class="tk">0.0</text>
<line x1="44.80" y1="296.69" x2="46.8" y2="296.69" stroke="#000" stroke-width="1.3"/>
<line x1="43.40" y1="280.38" x2="46.8" y2="280.38" stroke="#000" stroke-width="1.3"/>
<text transform="translate(42.50,282.58) scale(0.99,1.06)" font-size="8.7" text-anchor="end" class="tk">2.0E-6</text>
<line x1="44.80" y1="264.08" x2="46.8" y2="264.08" stroke="#000" stroke-width="1.3"/>
<line x1="43.40" y1="247.77" x2="46.8" y2="247.77" stroke="#000" stroke-width="1.3"/>
<text transform="translate(42.50,249.97) scale(0.99,1.06)" font-size="8.7" text-anchor="end" class="tk">4.0E-6</text>
<line x1="44.80" y1="231.46" x2="46.8" y2="231.46" stroke="#000" stroke-width="1.3"/>
<line x1="43.40" y1="215.15" x2="46.8" y2="215.15" stroke="#000" stroke-width="1.3"/>
<text transform="translate(42.50,217.35) scale(0.99,1.06)" font-size="8.7" text-anchor="end" class="tk">6.0E-6</text>
<line x1="44.80" y1="198.85" x2="46.8" y2="198.85" stroke="#000" stroke-width="1.3"/>
<text x="133.55" y="339.40" font-size="9.8" text-anchor="middle" class="lb">Wavelength (nm)</text>
<text x="0" y="0" transform="translate(8.00,244.60) rotate(-90)" font-size="9.8" text-anchor="middle" class="lb">Scattering (a.u.)</text>
<line x1="134.5" y1="191.7" x2="154.9" y2="191.7" stroke="#000000" stroke-width="1.6"/>
<text x="156.8" y="194.7" font-size="8.6" class="lg"><tspan>n</tspan><tspan font-size="4.99" dy="2.9">1</tspan><tspan dy="-2.9">=1.0,</tspan><tspan>n</tspan><tspan font-size="4.99" dy="2.9">2</tspan><tspan dy="-2.9">=1.5 F</tspan></text>
<line x1="134.5" y1="204.6" x2="154.9" y2="204.6" stroke="#ff0000" stroke-width="1.6"/>
<text x="156.8" y="207.6" font-size="8.6" class="lg"><tspan>n</tspan><tspan font-size="4.99" dy="2.9">1</tspan><tspan dy="-2.9">=1.0,</tspan><tspan>n</tspan><tspan font-size="4.99" dy="2.9">2</tspan><tspan dy="-2.9">=1.5 B</tspan></text>
<line x1="134.5" y1="217.9" x2="154.9" y2="217.9" stroke="#0000ff" stroke-width="1.6"/>
<text x="156.8" y="220.9" font-size="8.6" class="lg"><tspan>n</tspan><tspan font-size="4.99" dy="2.9">1</tspan><tspan dy="-2.9">=</tspan><tspan>n</tspan><tspan font-size="4.99" dy="2.9">2</tspan><tspan dy="-2.9">=1.35</tspan></text>
<text x="134.8" y="234.0" font-size="8.75" class="lg">C<tspan font-size="5.2" dy="3.1">SB</tspan><tspan dy="-3.1">/C</tspan><tspan font-size="5.2" dy="3.1">SF</tspan><tspan dy="-3.1">=1.53</tspan></text>
<text transform="translate(132.4,262.6) scale(0.975,1.07)" font-size="11.3" class="st">Structure C</text>
<text x="1.0" y="182.8" font-size="24" class="le">d</text>
<path d="M276.60,309.40 C284.77,309.80 292.88,310.46 301.10,310.60 C309.41,310.74 319.30,310.94 326.20,310.20 C331.11,309.67 335.18,309.16 338.70,307.70 C341.66,306.47 344.16,304.95 346.20,302.70 C348.41,300.26 349.76,296.69 351.20,293.30 C352.77,289.61 353.95,285.00 355.10,281.30 C356.08,278.15 356.75,275.41 357.70,272.50 C358.65,269.58 359.85,266.09 360.80,263.80 C361.44,262.26 361.87,260.88 362.60,260.00 C363.13,259.36 363.79,258.71 364.40,258.70 C365.02,258.69 365.70,259.37 366.30,260.00 C367.13,260.88 367.76,262.25 368.60,263.80 C369.84,266.09 371.48,269.57 372.80,272.50 C374.11,275.41 375.19,278.43 376.50,281.30 C377.79,284.13 378.82,286.91 380.60,289.60 C382.58,292.60 385.19,295.90 388.10,298.30 C391.02,300.70 394.31,302.49 398.10,304.00 C402.51,305.76 407.86,306.74 413.20,307.70 C419.09,308.76 426.03,309.42 432.00,309.90 C437.41,310.34 442.33,310.37 447.50,310.60" fill="none" stroke="#000000" stroke-width="1.8" stroke-linejoin="round"/>
<path d="M276.60,305.60 C280.57,305.90 284.49,306.05 288.50,306.50 C292.65,306.97 296.90,308.05 301.10,308.40 C305.26,308.75 309.67,308.80 313.60,308.60 C317.13,308.42 320.42,308.19 323.60,307.40 C326.68,306.63 329.84,305.58 332.40,304.00 C334.83,302.50 336.84,300.46 338.70,298.30 C340.62,296.08 342.25,293.47 343.70,290.80 C345.20,288.05 346.40,285.01 347.50,282.00 C348.61,278.95 349.49,275.98 350.30,272.60 C351.22,268.75 351.85,264.28 352.60,260.10 C353.35,255.91 354.07,251.69 354.80,247.50 C355.53,243.32 356.12,239.85 357.00,235.00 C358.22,228.25 359.96,216.87 361.50,210.80 C362.45,207.03 363.27,201.86 364.40,201.80 C365.56,201.74 367.22,206.98 368.40,210.80 C370.26,216.83 371.51,228.26 372.80,235.00 C373.73,239.85 374.37,243.34 375.30,247.50 C376.24,251.70 377.22,255.93 378.40,260.10 C379.59,264.30 380.99,268.83 382.40,272.60 C383.61,275.82 384.56,278.61 386.20,281.40 C387.90,284.29 390.12,287.11 392.50,289.60 C394.91,292.12 397.44,294.45 400.60,296.40 C404.20,298.62 408.75,300.29 413.20,301.80 C417.92,303.40 422.86,304.54 428.20,305.60 C434.20,306.79 441.07,307.47 447.50,308.40" fill="none" stroke="#ff0000" stroke-width="1.8" stroke-linejoin="round"/>
<path d="M276.60,307.70 C280.57,307.93 284.48,308.12 288.50,308.40 C292.64,308.69 296.91,309.20 301.10,309.40 C305.27,309.60 309.43,309.76 313.60,309.60 C317.80,309.43 322.34,309.52 326.20,308.40 C329.84,307.34 333.48,305.64 336.20,303.30 C338.85,301.01 340.74,297.72 342.40,294.60 C344.07,291.46 345.03,288.03 346.20,284.50 C347.45,280.72 348.62,276.64 349.60,272.60 C350.59,268.50 351.32,264.28 352.10,260.10 C352.88,255.91 353.57,251.69 354.30,247.50 C355.03,243.32 355.63,239.53 356.50,235.00 C357.54,229.56 358.66,222.16 360.20,217.10 C361.39,213.19 362.93,207.00 364.30,207.00 C365.67,207.00 367.20,213.19 368.40,217.10 C369.95,222.16 371.08,229.56 372.20,235.00 C373.14,239.54 373.77,243.34 374.70,247.50 C375.64,251.70 376.68,255.95 377.80,260.10 C378.91,264.21 380.02,268.51 381.40,272.30 C382.65,275.76 383.88,278.93 385.60,282.00 C387.34,285.10 389.33,288.20 391.80,290.80 C394.32,293.45 397.26,295.72 400.60,297.70 C404.30,299.89 408.75,301.65 413.20,303.10 C417.92,304.63 422.86,305.55 428.20,306.50 C434.21,307.57 441.07,308.17 447.50,309.00" fill="none" stroke="#0000ff" stroke-width="1.8" stroke-linejoin="round"/>
<rect x="275.2" y="186.0" width="172.60" height="126.80" fill="none" stroke="#000" stroke-width="1.4"/>
<line x1="275.20" y1="312.8" x2="275.20" y2="316.20" stroke="#000" stroke-width="1.3"/>
<text transform="translate(275.20,324.10) scale(0.98,1.06)" font-size="8.7" text-anchor="middle" class="tk">400</text>
<line x1="296.77" y1="312.8" x2="296.77" y2="314.80" stroke="#000" stroke-width="1.3"/>
<line x1="318.35" y1="312.8" x2="318.35" y2="316.20" stroke="#000" stroke-width="1.3"/>
<text transform="translate(318.35,324.10) scale(0.98,1.06)" font-size="8.7" text-anchor="middle" class="tk">500</text>
<line x1="339.93" y1="312.8" x2="339.93" y2="314.80" stroke="#000" stroke-width="1.3"/>
<line x1="361.50" y1="312.8" x2="361.50" y2="316.20" stroke="#000" stroke-width="1.3"/>
<text transform="translate(361.50,324.10) scale(0.98,1.06)" font-size="8.7" text-anchor="middle" class="tk">600</text>
<line x1="383.07" y1="312.8" x2="383.07" y2="314.80" stroke="#000" stroke-width="1.3"/>
<line x1="404.65" y1="312.8" x2="404.65" y2="316.20" stroke="#000" stroke-width="1.3"/>
<text transform="translate(404.65,324.10) scale(0.98,1.06)" font-size="8.7" text-anchor="middle" class="tk">700</text>
<line x1="426.23" y1="312.8" x2="426.23" y2="314.80" stroke="#000" stroke-width="1.3"/>
<line x1="447.80" y1="312.8" x2="447.80" y2="316.20" stroke="#000" stroke-width="1.3"/>
<text transform="translate(447.80,324.10) scale(0.98,1.06)" font-size="8.7" text-anchor="middle" class="tk">800</text>
<line x1="271.80" y1="312.80" x2="275.2" y2="312.80" stroke="#000" stroke-width="1.3"/>
<text transform="translate(270.90,315.00) scale(0.99,1.06)" font-size="8.7" text-anchor="end" class="tk">0.0</text>
<line x1="273.20" y1="301.87" x2="275.2" y2="301.87" stroke="#000" stroke-width="1.3"/>
<line x1="271.80" y1="290.94" x2="275.2" y2="290.94" stroke="#000" stroke-width="1.3"/>
<text transform="translate(270.90,293.14) scale(0.99,1.06)" font-size="8.7" text-anchor="end" class="tk">5.0E-6</text>
<line x1="273.20" y1="280.01" x2="275.2" y2="280.01" stroke="#000" stroke-width="1.3"/>
<line x1="271.80" y1="269.08" x2="275.2" y2="269.08" stroke="#000" stroke-width="1.3"/>
<text transform="translate(270.90,271.28) scale(0.99,1.06)" font-size="8.7" text-anchor="end" class="tk">1.0E-5</text>
<line x1="273.20" y1="258.14" x2="275.2" y2="258.14" stroke="#000" stroke-width="1.3"/>
<line x1="271.80" y1="247.21" x2="275.2" y2="247.21" stroke="#000" stroke-width="1.3"/>
<text transform="translate(270.90,249.41) scale(0.99,1.06)" font-size="8.7" text-anchor="end" class="tk">1.5E-5</text>
<line x1="273.20" y1="236.28" x2="275.2" y2="236.28" stroke="#000" stroke-width="1.3"/>
<line x1="271.80" y1="225.35" x2="275.2" y2="225.35" stroke="#000" stroke-width="1.3"/>
<text transform="translate(270.90,227.55) scale(0.99,1.06)" font-size="8.7" text-anchor="end" class="tk">2.0E-5</text>
<line x1="273.20" y1="214.42" x2="275.2" y2="214.42" stroke="#000" stroke-width="1.3"/>
<line x1="271.80" y1="203.49" x2="275.2" y2="203.49" stroke="#000" stroke-width="1.3"/>
<text transform="translate(270.90,205.69) scale(0.99,1.06)" font-size="8.7" text-anchor="end" class="tk">2.5E-5</text>
<line x1="273.20" y1="192.56" x2="275.2" y2="192.56" stroke="#000" stroke-width="1.3"/>
<text x="361.50" y="339.20" font-size="9.8" text-anchor="middle" class="lb">Wavelength (nm)</text>
<text x="0" y="0" transform="translate(236.40,244.60) rotate(-90)" font-size="9.8" text-anchor="middle" class="lb">Scattering (a.u.)</text>
<line x1="277.2" y1="191.0" x2="297.1" y2="191.0" stroke="#000000" stroke-width="1.6"/>
<text x="299.4" y="194.0" font-size="8.6" class="lg"><tspan>n</tspan><tspan font-size="4.99" dy="2.9">1</tspan><tspan dy="-2.9">=1.0,</tspan><tspan>n</tspan><tspan font-size="4.99" dy="2.9">2</tspan><tspan dy="-2.9">=2.0 F</tspan></text>
<line x1="277.2" y1="204.2" x2="297.1" y2="204.2" stroke="#ff0000" stroke-width="1.6"/>
<text x="299.4" y="207.2" font-size="8.6" class="lg"><tspan>n</tspan><tspan font-size="4.99" dy="2.9">1</tspan><tspan dy="-2.9">=1.0,</tspan><tspan>n</tspan><tspan font-size="4.99" dy="2.9">2</tspan><tspan dy="-2.9">=2.0 B</tspan></text>
<line x1="277.2" y1="217.9" x2="297.1" y2="217.9" stroke="#0000ff" stroke-width="1.6"/>
<text x="299.4" y="220.9" font-size="8.6" class="lg"><tspan>n</tspan><tspan font-size="4.99" dy="2.9">1</tspan><tspan dy="-2.9">=</tspan><tspan>n</tspan><tspan font-size="4.99" dy="2.9">2</tspan><tspan dy="-2.9">=1.75</tspan></text>
<text x="278.0" y="233.6" font-size="8.75" class="lg">C<tspan font-size="5.2" dy="3.1">SB</tspan><tspan dy="-3.1">/C</tspan><tspan font-size="5.2" dy="3.1">SF</tspan><tspan dy="-3.1">=2.04</tspan></text>
<text transform="translate(382.4,262.6) scale(0.975,1.07)" font-size="11.3" class="st">Structure C</text>
<text x="229.0" y="182.8" font-size="24" class="le">e</text>
<path d="M504.60,311.50 C516.93,311.63 531.34,312.06 541.60,311.90 C548.92,311.78 554.77,311.55 560.40,311.10 C565.03,310.73 568.55,310.13 573.00,309.60 C578.02,309.00 584.70,308.13 589.00,307.70 C591.90,307.41 593.95,307.92 596.30,307.10 C598.90,306.19 601.54,304.12 603.80,302.10 C606.16,299.99 608.26,297.41 610.10,294.60 C612.07,291.59 613.33,287.57 615.10,284.50 C616.68,281.76 618.32,279.17 620.10,277.00 C621.68,275.08 623.64,273.03 625.10,272.00 C626.01,271.35 626.77,270.80 627.60,270.80 C628.43,270.80 629.21,271.29 630.10,272.00 C631.63,273.21 633.45,276.00 635.20,278.30 C637.21,280.94 639.27,284.23 641.40,287.00 C643.44,289.66 645.36,292.38 647.70,294.60 C649.98,296.76 652.14,298.51 655.20,300.20 C659.18,302.40 666.06,304.87 670.00,305.90 C672.50,306.55 674.20,306.50 676.30,306.80" fill="none" stroke="#000000" stroke-width="1.8" stroke-linejoin="round"/>
<path d="M504.60,307.70 C510.67,308.13 516.68,308.68 522.80,309.00 C529.01,309.32 535.69,309.88 541.60,309.60 C546.92,309.35 551.94,308.64 556.70,307.70 C561.10,306.83 565.30,305.62 569.20,304.30 C572.76,303.09 575.93,301.79 579.20,300.20 C582.54,298.57 586.50,295.54 589.00,294.60 C590.41,294.07 591.20,294.34 592.50,293.90 C594.33,293.28 597.06,292.61 598.80,290.80 C601.10,288.40 602.36,283.48 603.80,279.50 C605.33,275.27 606.22,270.48 607.60,266.10 C608.95,261.81 610.79,257.73 612.00,253.50 C613.18,249.36 613.70,245.53 614.80,241.00 C616.12,235.56 617.91,228.52 619.50,223.10 C620.85,218.51 621.84,213.32 623.60,210.50 C624.71,208.71 626.11,206.82 627.40,206.80 C628.71,206.78 630.28,208.69 631.40,210.50 C633.14,213.31 633.90,218.51 635.10,223.10 C636.52,228.52 637.97,235.57 639.20,241.00 C640.23,245.54 640.82,249.36 642.00,253.50 C643.21,257.73 645.09,262.70 646.40,266.10 C647.31,268.45 647.66,269.86 648.90,272.00 C650.64,275.00 653.87,278.97 656.50,282.00 C658.92,284.79 661.59,287.38 664.00,289.60 C666.06,291.50 667.92,293.10 670.00,294.60 C672.03,296.06 674.20,297.20 676.30,298.50" fill="none" stroke="#ff0000" stroke-width="1.8" stroke-linejoin="round"/>
<path d="M504.60,309.60 C510.67,309.80 516.68,310.03 522.80,310.20 C529.02,310.37 535.56,310.83 541.60,310.60 C547.23,310.38 552.85,309.92 557.90,309.00 C562.41,308.18 566.58,306.93 570.50,305.60 C574.07,304.39 577.85,302.77 580.50,301.50 C582.33,300.62 583.40,300.00 585.00,299.00 C586.95,297.78 589.28,296.30 591.30,294.60 C593.46,292.77 595.63,290.58 597.50,288.30 C599.40,285.99 601.06,283.46 602.60,280.80 C604.20,278.04 605.69,274.66 606.90,272.00 C607.88,269.85 608.49,268.45 609.40,266.10 C610.71,262.70 612.43,257.71 613.80,253.50 C615.16,249.34 616.31,245.09 617.60,241.00 C618.85,237.03 619.85,233.13 621.40,229.30 C622.98,225.39 624.95,217.89 627.00,217.80 C629.10,217.71 632.33,225.31 633.90,229.30 C635.38,233.06 635.38,237.06 636.40,241.00 C637.46,245.12 638.75,249.35 640.20,253.50 C641.68,257.72 643.65,262.72 645.20,266.10 C646.29,268.47 646.98,269.82 648.30,272.00 C650.08,274.94 652.77,278.83 655.20,282.00 C657.57,285.09 660.08,288.31 662.70,290.80 C665.04,293.02 667.61,294.77 670.00,296.40 C672.14,297.86 674.20,298.93 676.30,300.20" fill="none" stroke="#0000ff" stroke-width="1.8" stroke-linejoin="round"/>
<rect x="503.5" y="186.4" width="173.30" height="126.80" fill="none" stroke="#000" stroke-width="1.4"/>
<line x1="503.50" y1="313.2" x2="503.50" y2="316.60" stroke="#000" stroke-width="1.3"/>
<text transform="translate(503.50,324.50) scale(0.98,1.06)" font-size="8.7" text-anchor="middle" class="tk">400</text>
<line x1="525.16" y1="313.2" x2="525.16" y2="315.20" stroke="#000" stroke-width="1.3"/>
<line x1="546.83" y1="313.2" x2="546.83" y2="316.60" stroke="#000" stroke-width="1.3"/>
<text transform="translate(546.83,324.50) scale(0.98,1.06)" font-size="8.7" text-anchor="middle" class="tk">500</text>
<line x1="568.49" y1="313.2" x2="568.49" y2="315.20" stroke="#000" stroke-width="1.3"/>
<line x1="590.15" y1="313.2" x2="590.15" y2="316.60" stroke="#000" stroke-width="1.3"/>
<text transform="translate(590.15,324.50) scale(0.98,1.06)" font-size="8.7" text-anchor="middle" class="tk">600</text>
<line x1="611.81" y1="313.2" x2="611.81" y2="315.20" stroke="#000" stroke-width="1.3"/>
<line x1="633.47" y1="313.2" x2="633.47" y2="316.60" stroke="#000" stroke-width="1.3"/>
<text transform="translate(633.47,324.50) scale(0.98,1.06)" font-size="8.7" text-anchor="middle" class="tk">700</text>
<line x1="655.14" y1="313.2" x2="655.14" y2="315.20" stroke="#000" stroke-width="1.3"/>
<line x1="676.80" y1="313.2" x2="676.80" y2="316.60" stroke="#000" stroke-width="1.3"/>
<text transform="translate(676.80,324.50) scale(0.98,1.06)" font-size="8.7" text-anchor="middle" class="tk">800</text>
<line x1="500.10" y1="313.20" x2="503.5" y2="313.20" stroke="#000" stroke-width="1.3"/>
<text transform="translate(499.20,315.40) scale(0.99,1.06)" font-size="8.7" text-anchor="end" class="tk">0.0</text>
<line x1="501.50" y1="299.11" x2="503.5" y2="299.11" stroke="#000" stroke-width="1.3"/>
<line x1="500.10" y1="285.02" x2="503.5" y2="285.02" stroke="#000" stroke-width="1.3"/>
<text transform="translate(499.20,287.22) scale(0.99,1.06)" font-size="8.7" text-anchor="end" class="tk">1.0E-5</text>
<line x1="501.50" y1="270.93" x2="503.5" y2="270.93" stroke="#000" stroke-width="1.3"/>
<line x1="500.10" y1="256.84" x2="503.5" y2="256.84" stroke="#000" stroke-width="1.3"/>
<text transform="translate(499.20,259.04) scale(0.99,1.06)" font-size="8.7" text-anchor="end" class="tk">2.0E-5</text>
<line x1="501.50" y1="242.76" x2="503.5" y2="242.76" stroke="#000" stroke-width="1.3"/>
<line x1="500.10" y1="228.67" x2="503.5" y2="228.67" stroke="#000" stroke-width="1.3"/>
<text transform="translate(499.20,230.87) scale(0.99,1.06)" font-size="8.7" text-anchor="end" class="tk">3.0E-5</text>
<line x1="501.50" y1="214.58" x2="503.5" y2="214.58" stroke="#000" stroke-width="1.3"/>
<line x1="500.10" y1="200.49" x2="503.5" y2="200.49" stroke="#000" stroke-width="1.3"/>
<text transform="translate(499.20,202.69) scale(0.99,1.06)" font-size="8.7" text-anchor="end" class="tk">4.0E-5</text>
<line x1="501.50" y1="186.40" x2="503.5" y2="186.40" stroke="#000" stroke-width="1.3"/>
<text x="590.15" y="339.60" font-size="9.8" text-anchor="middle" class="lb">Wavelength (nm)</text>
<text x="0" y="0" transform="translate(464.70,245.00) rotate(-90)" font-size="9.8" text-anchor="middle" class="lb">Scattering (a.u.)</text>
<line x1="506.6" y1="191.7" x2="526.5" y2="191.7" stroke="#000000" stroke-width="1.6"/>
<text x="528.8" y="194.7" font-size="8.6" class="lg"><tspan>n</tspan><tspan font-size="4.99" dy="2.9">1</tspan><tspan dy="-2.9">=1.0,</tspan><tspan>n</tspan><tspan font-size="4.99" dy="2.9">2</tspan><tspan dy="-2.9">=2.5 F</tspan></text>
<line x1="506.6" y1="204.6" x2="526.5" y2="204.6" stroke="#ff0000" stroke-width="1.6"/>
<text x="528.8" y="207.6" font-size="8.6" class="lg"><tspan>n</tspan><tspan font-size="4.99" dy="2.9">1</tspan><tspan dy="-2.9">=1.0,</tspan><tspan>n</tspan><tspan font-size="4.99" dy="2.9">2</tspan><tspan dy="-2.9">=2.5 B</tspan></text>
<line x1="506.6" y1="218.8" x2="526.5" y2="218.8" stroke="#0000ff" stroke-width="1.6"/>
<text x="528.8" y="221.8" font-size="8.6" class="lg"><tspan>n</tspan><tspan font-size="4.99" dy="2.9">1</tspan><tspan dy="-2.9">=</tspan><tspan>n</tspan><tspan font-size="4.99" dy="2.9">2</tspan><tspan dy="-2.9">=2.185</tspan></text>
<text x="507.2" y="235.0" font-size="8.75" class="lg">C<tspan font-size="5.2" dy="3.1">SB</tspan><tspan dy="-3.1">/C</tspan><tspan font-size="5.2" dy="3.1">SF</tspan><tspan dy="-3.1">=2.48</tspan></text>
<text transform="translate(539.2,274.6) scale(0.975,1.07)" font-size="11.3" class="st">Structure C</text>
<text x="462.0" y="182.8" font-size="24" class="le">f</text>
</svg></body></html>
